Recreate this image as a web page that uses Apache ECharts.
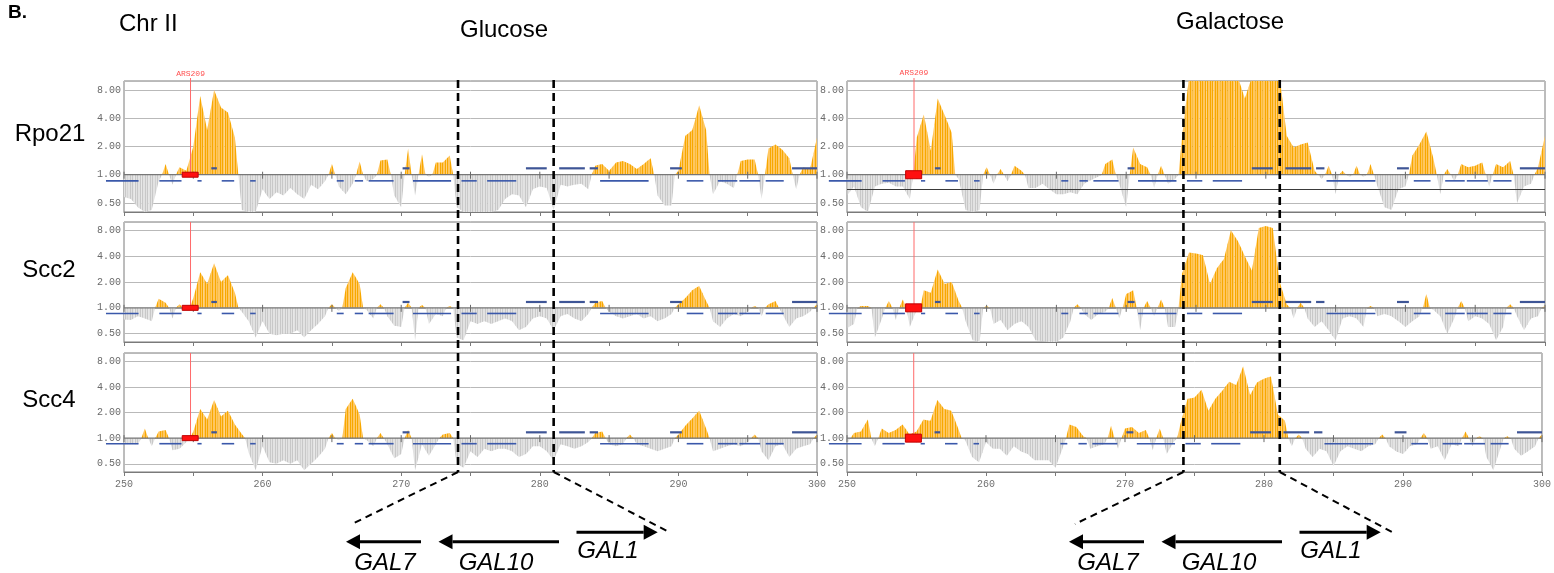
<!DOCTYPE html>
<html>
<head>
<meta charset="utf-8">
<title>Chr II GAL locus enrichment</title>
<script src="https://cdn.jsdelivr.net/npm/echarts@6.0.0/dist/echarts.min.js"></script>
<style>
  html, body { margin: 0; padding: 0; background: #fff; }
  #chart { width: 1554px; height: 573px; }
</style>
</head>
<body>
<div id="chart"></div>
<script>
// Bins along chromosome II (kb): first bin centre and bin width
const binStartKb = 250;
const binStepKb = 0.5;

// Enrichment ratios per 0.5 kb bin, 250.0 ... 300.0 kb (101 bins)
const rpo21Glucose = [
  0.58, 0.55, 0.45, 0.40, 0.42, 0.85, 1.3, 0.78, 1.2, 1.1,
  2.0, 6.9, 3.0, 8.0, 5.2, 4.6, 2.5, 0.42, 0.40, 0.40,
  0.7, 0.55, 0.65, 0.6, 0.72, 0.62, 0.55, 0.78, 0.7, 0.85,
  1.3, 0.75, 0.62, 0.8, 1.38, 0.85, 0.9, 1.42, 1.45, 0.6,
  0.45, 1.9, 0.6, 1.65, 0.95, 1.35, 1.35, 1.6, 0.45, 0.40,
  0.40, 0.40, 0.40, 0.40, 0.42, 0.55, 0.62, 0.6, 0.45, 0.7,
  0.75, 0.72, 0.42, 0.78, 0.75, 0.78, 0.8, 0.7, 1.25, 1.3,
  1.1, 1.35, 1.4, 1.3, 1.15, 1.3, 1.5, 0.6, 0.47, 0.47,
  1.1, 2.6, 3.0, 5.5, 3.0, 0.62, 0.85, 0.8, 0.72, 1.4,
  1.45, 1.45, 0.55, 1.9, 2.1, 1.85, 1.5, 0.7, 1.2, 1.15,
  2.5
];
const rpo21Galactose = [
  0.6, 0.75, 0.45, 0.40, 0.75, 0.8, 0.82, 0.75, 0.75, 0.55,
  2.5, 4.4, 1.8, 6.5, 4.3, 2.8, 0.9, 0.42, 0.40, 0.42,
  1.2, 0.8, 1.15, 0.85, 1.25, 1.1, 0.72, 0.72, 0.8, 0.7,
  0.62, 0.62, 0.65, 0.62, 0.8, 0.88, 0.95, 1.3, 1.45, 0.8,
  0.45, 1.95, 1.3, 1.2, 0.72, 1.25, 0.8, 0.9, 2.5, 11,
  11, 11, 11, 11, 11, 11, 11, 6.5, 11, 11,
  11, 11, 11, 2.6, 1.95, 2.1, 2.2, 1.1, 0.9, 1.25,
  0.62, 1.1, 0.95, 1.25, 0.95, 1.3, 0.75, 0.45, 0.42, 0.7,
  0.75, 1.6, 2.1, 2.9, 1.5, 0.62, 1.15, 0.85, 1.3, 1.2,
  1.25, 1.35, 0.75, 1.3, 1.2, 1.4, 0.5, 0.75, 0.8, 1.2,
  2.6
];
const scc2Glucose = [
  0.73, 0.72, 0.8, 0.75, 0.7, 1.28, 1.15, 0.75, 1.1, 0.95,
  1.3, 2.6, 1.9, 3.3, 2.0, 2.4, 1.5, 0.9, 0.7, 0.45,
  0.7, 0.5, 0.48, 0.5, 0.5, 0.55, 0.45, 0.55, 0.65, 0.8,
  1.1, 0.92, 1.7, 2.6, 1.9, 0.95, 0.75, 1.1, 0.8, 0.62,
  0.6, 1.15, 0.42, 1.08, 0.65, 0.85, 0.8, 1.05, 0.45, 0.42,
  0.7, 0.65, 0.7, 0.65, 0.7, 0.75, 0.7, 0.55, 0.6, 0.75,
  0.8, 0.75, 0.55, 0.8, 0.85, 0.75, 0.7, 0.85, 1.15, 1.2,
  0.9, 0.8, 0.75, 0.8, 0.85, 0.75, 0.8, 0.7, 0.75, 0.85,
  1.1, 1.3, 1.6, 1.8, 1.2, 0.7, 0.6, 0.75, 0.85, 0.8,
  0.9, 1.05, 0.8, 1.1, 1.2, 0.85, 0.6, 0.75, 0.8, 0.9,
  1.1
];
const scc2Galactose = [
  0.58, 0.65, 1.05, 1.05, 0.45, 0.75, 1.2, 0.72, 1.25, 0.6,
  0.95, 1.6, 1.5, 2.8, 1.9, 2.0, 1.2, 0.7, 0.42, 0.4,
  1.05, 0.65, 0.72, 0.55, 0.65, 0.7, 0.6, 0.42, 0.41, 0.4,
  0.4, 0.45, 0.7, 1.1, 0.85, 0.72, 0.85, 0.9, 1.3, 0.75,
  1.45, 1.6, 0.55, 1.2, 0.8, 1.25, 0.6, 0.6, 2.5, 4.4,
  4.3, 4.1, 1.9, 2.9, 3.7, 8.0, 6.0, 4.0, 2.7, 8.5,
  9.0, 8.5, 2.0, 1.1, 0.75, 1.15, 0.75, 0.6, 0.7, 0.55,
  0.42, 0.75, 0.8, 0.75, 0.6, 1.05, 0.8, 0.85, 0.8, 0.7,
  0.6, 0.7, 0.8, 1.45, 0.95, 0.8, 0.5, 0.75, 1.2, 0.7,
  0.8, 0.75, 0.65, 0.42, 0.6, 1.1, 0.8, 0.55, 0.75, 0.8,
  1.05
];
const scc4Glucose = [
  0.85, 0.85, 0.85, 1.3, 0.8, 1.2, 1.25, 0.72, 0.75, 0.9,
  1.2, 2.2, 1.65, 2.8, 1.8, 2.1, 1.45, 1.12, 0.67, 0.42,
  0.8, 0.52, 0.5, 0.55, 0.5, 0.55, 0.42, 0.5, 0.6, 0.75,
  1.15, 0.95, 2.2, 2.9, 1.9, 0.95, 0.8, 1.15, 0.85, 0.58,
  0.65, 1.25, 0.42, 0.85, 0.62, 0.85, 1.1, 1.15, 0.5, 0.45,
  0.7, 0.6, 0.75, 0.7, 0.75, 0.75, 0.7, 0.6, 0.65, 0.8,
  0.8, 0.7, 0.55, 0.85, 0.8, 0.75, 0.8, 0.9, 1.15, 1.2,
  0.85, 0.8, 0.85, 1.1, 0.85, 0.8, 0.75, 0.7, 0.75, 0.8,
  1.1, 1.4, 1.7, 2.1, 1.3, 0.7, 0.75, 0.8, 0.85, 0.8,
  0.9, 1.1, 0.7, 0.55, 0.8, 0.85, 0.6, 0.75, 0.8, 0.85,
  1.1
];
const scc4Galactose = [
  0.85, 1.15, 1.2, 1.65, 0.8, 1.3, 1.15, 1.25, 1.45, 1.1,
  1.2, 1.65, 1.6, 2.8, 2.2, 2.1, 1.3, 0.95, 0.6, 0.52,
  0.9, 0.75, 0.75, 0.62, 0.8, 0.7, 0.65, 0.55, 0.55, 0.55,
  0.45, 0.75, 1.45, 1.35, 1.05, 0.75, 0.8, 0.85, 1.4, 0.75,
  1.3, 1.35, 1.15, 1.25, 0.72, 1.3, 0.65, 0.9, 1.5, 2.9,
  3.0, 3.7, 2.1, 2.9, 3.6, 4.6, 4.2, 7.0, 3.2, 4.5,
  5.0, 5.3, 1.9, 1.6, 0.8, 1.1, 0.75, 0.6, 0.75, 0.7,
  0.47, 0.7, 0.8, 0.75, 0.7, 0.8, 0.85, 1.1, 0.8, 0.7,
  0.65, 0.8, 0.85, 1.15, 0.75, 0.8, 0.55, 0.85, 0.8, 1.2,
  0.8, 1.05, 0.6, 0.42, 0.75, 1.05, 0.75, 0.62, 0.7, 0.8,
  1.1
];

// Called segments (start kb, end kb), drawn above / below the 1.00 line
const upperSegments = [
  [256.3, 256.7], [270.1, 270.6], [279.0, 280.5], [281.4, 283.25],
  [283.6, 284.2], [289.4, 290.25], [298.2, 300.0]
];
const lowerSegments = [
  [248.7, 251.05], [252.55, 254.15], [255.3, 255.6], [257.05, 257.95],
  [259.1, 259.5], [265.35, 265.85], [266.65, 267.25], [267.65, 269.45],
  [270.85, 273.6], [274.35, 275.45], [276.2, 278.3], [284.35, 287.85],
  [290.6, 291.8], [292.85, 294.25], [294.4, 295.9], [296.3, 297.6]
];
const upperSegmentLevel = 1.17;
const lowerSegmentLevel = 0.86;

// Replication origin ARS209 and the GAL cluster boundaries (kb)
const arsName = 'ARS209';
const arsPositionKb = 254.8;
const arsSpanKb = [254.2, 255.35];
const galClusterKb = [274.1, 281.0];

// Axis ticks
const xTicksKb = [250, 255, 260, 265, 270, 275, 280, 285, 290, 295, 300];
const extraLineRpo21Galactose = 0.7;

const rowNames = ['Rpo21', 'Scc2', 'Scc4'];
const conditions = ['Glucose', 'Galactose'];
const panelData = [
  [rpo21Glucose, rpo21Galactose],
  [scc2Glucose, scc2Galactose],
  [scc4Glucose, scc4Galactose]
];

// Layout (pixels)
const cols = [{ left: 124, width: 693 }, { left: 847, width: 698 }];
const rows = [{ top: 81, height: 131 }, { top: 222, height: 120 }, { top: 353, height: 119 }];
const monoFont = '"Liberation Mono", "DejaVu Sans Mono", monospace';
const textFont = '"Liberation Sans", Arial, sans-serif';

function stripeFill(light, dark) {
  const c = document.createElement('canvas');
  c.width = 5; c.height = 4;
  const g = c.getContext('2d');
  g.fillStyle = light; g.fillRect(0, 0, 5, 4);
  g.fillStyle = dark; g.fillRect(0, 0, 1, 4); g.fillRect(2, 0, 1, 4);
  return { image: c, repeat: 'repeat' };
}
const enrichedFill = stripeFill('#ffc660', '#f7a800');
const depletedFill = stripeFill('#e2e2e2', '#c8c8c8');

const chart = echarts.init(document.getElementById('chart'), null, { renderer: 'canvas' });

const grids = [], xAxes = [], yAxes = [], series = [];

// Edge height between two neighbouring bins: shared level when both sit
// on the same side of 1, otherwise the profile returns to the baseline.
function edgeValue(a, b) {
  if (a === undefined) return b;
  if ((a >= 1) !== (b >= 1)) return 1;
  return Math.sqrt(a * b);
}

rows.forEach((row, r) => {
  cols.forEach((col, c) => {
    const i = r * 2 + c;
    const values = panelData[r][c];
    grids.push({
      left: col.left, top: row.top, width: col.width, height: row.height,
      show: true, borderColor: '#7a7a7a', borderWidth: 1, backgroundColor: '#fff'
    });
    xAxes.push({
      gridIndex: i, type: 'value', min: 250, max: 300, interval: 5,
      axisLine: { show: true, lineStyle: { color: '#7a7a7a' } },
      axisTick: { show: true, length: 4, lineStyle: { color: '#7a7a7a' } },
      axisLabel: {
        show: r === 2, color: '#707070', fontFamily: monoFont, fontSize: 10, margin: 7,
        formatter: v => (v % 10 === 0 ? String(v) : '')
      },
      splitLine: { show: false }
    });
    yAxes.push({
      gridIndex: i, type: 'log', logBase: 2, min: 0.4, max: 10,
      axisLine: { show: false }, axisTick: { show: false },
      axisLabel: {
        color: '#6a6a6a', fontFamily: monoFont, fontSize: 10, margin: 3,
        showMinLabel: false, showMaxLabel: false,
        formatter: v => Number(v).toFixed(2)
      },
      splitLine: { show: true, lineStyle: { color: '#b9b9b9', width: 1 } }
    });

    // enrichment profile, one column per bin, drawn from the 1.00 baseline
    const barSeries = {
      type: 'custom', name: rowNames[r] + ' ' + conditions[c],
      xAxisIndex: i, yAxisIndex: i, clip: true, silent: true, z: 2,
      data: values.map((v, k) => [binStartKb + k * binStepKb, v]),
      renderItem: (params, api) => {
        const k = params.dataIndex;
        const kb = api.value(0), v = api.value(1);
        const eL = edgeValue(values[k - 1], v);
        const eR = edgeValue(values[k + 1], v);
        const pL = api.coord([kb - binStepKb / 2, eL]);
        const pC = api.coord([kb, v]);
        const pR = api.coord([kb + binStepKb / 2, eR]);
        const baseY = api.coord([kb, 1])[1];
        return {
          type: 'polygon',
          shape: { points: [[pL[0], baseY], [pL[0], pL[1]], [pC[0], pC[1]], [pR[0], pR[1]], [pR[0], baseY]] },
          style: { fill: v >= 1 ? enrichedFill : depletedFill }
        };
      }
    };
    if (r === 0 && c === 1) {
      barSeries.markLine = {
        silent: true, symbol: ['none', 'none'], label: { show: false },
        lineStyle: { color: '#3a3a3a', type: 'solid', width: 1 },
        data: [{ yAxis: extraLineRpo21Galactose }]
      };
    }
    series.push(barSeries);

    // 1.00 baseline with its tick marks
    series.push({
      type: 'custom', xAxisIndex: i, yAxisIndex: i, silent: true, z: 3,
      data: xTicksKb.map(k => [k, 1]),
      renderItem: (params, api) => {
        const p = api.coord([api.value(0), 1]);
        const children = [{
          type: 'line', shape: { x1: p[0], y1: p[1] - 3, x2: p[0], y2: p[1] + 4 },
          style: { stroke: '#6a6a6a', lineWidth: 1 }
        }];
        if (params.dataIndex === 0) {
          const e = api.coord([xTicksKb[xTicksKb.length - 1], 1]);
          children.push({
            type: 'line', shape: { x1: p[0], y1: p[1], x2: e[0], y2: e[1] },
            style: { stroke: '#777', lineWidth: 1.2 }
          });
        }
        return { type: 'group', children };
      }
    });

    // called segments
    [[upperSegments, upperSegmentLevel, '#3e5596', 2.2], [lowerSegments, lowerSegmentLevel, '#3a58aa', 1.6]].forEach(([segs, level, color, w]) => {
      series.push({
        type: 'custom', xAxisIndex: i, yAxisIndex: i, silent: true, z: 4,
        encode: { x: [0, 1] },
        data: segs.map(s => [s[0], s[1]]),
        renderItem: (params, api) => {
          const a = api.coord([api.value(0), level]);
          const b = api.coord([api.value(1), level]);
          return { type: 'line', shape: { x1: a[0], y1: a[1], x2: b[0], y2: b[1] }, style: { stroke: color, lineWidth: w } };
        }
      });
    });

    // ARS209 marker: vertical line and feature box
    const boxHalf = c === 0 ? 2.5 : 4;
    series.push({
      type: 'custom', xAxisIndex: i, yAxisIndex: i, silent: true, z: 5,
      encode: { x: [0, 1, 2] },
      data: [[arsPositionKb, arsSpanKb[0], arsSpanKb[1]]],
      renderItem: (params, api) => {
        const top = api.coord([api.value(0), 10]);
        const base = api.coord([api.value(0), 1]);
        const a = api.coord([api.value(1), 1]);
        const b = api.coord([api.value(2), 1]);
        return {
          type: 'group', children: [
            { type: 'line', shape: { x1: base[0], y1: top[1], x2: base[0], y2: base[1] }, style: { stroke: '#ff6a6a', lineWidth: 1 } },
            { type: 'rect', shape: { x: a[0], y: a[1] - boxHalf, width: b[0] - a[0], height: boxHalf * 2 }, style: { fill: '#ff1010', stroke: '#c00000', lineWidth: 1 } }
          ]
        };
      }
    });
  });
});

chart.setOption({
  animation: false,
  backgroundColor: '#fff',
  grid: grids, xAxis: xAxes, yAxis: yAxes, series
});

// Annotations placed from the axis scales
const gfx = [];
const bottomY = rows[2].top + rows[2].height;
const schematic = {
  diagLeft: [228, 524], diagRight: [545, 532],
  arrows: [
    { name: 'GAL7', tail: 297, tip: 222, y: 541.7, label: [261, 563] },
    { name: 'GAL10', tail: 435, tip: 314.5, y: 541.7, label: [372, 563] },
    { name: 'GAL1', tail: 452.5, tip: 533.7, y: 532.3, label: [484, 551.7] }
  ]
};

cols.forEach((col, c) => {
  const xs = galClusterKb.map(kb => chart.convertToPixel({ xAxisIndex: c }, kb));
  xs.forEach(x => {
    gfx.push({ type: 'line', z: 50, silent: true,
      shape: { x1: x, y1: rows[0].top - 1, x2: x, y2: bottomY },
      style: { stroke: '#000', lineWidth: 2.6, lineDash: [8, 5] } });
  });
  gfx.push({ type: 'line', z: 50, silent: true,
    shape: { x1: xs[0], y1: bottomY, x2: col.left + schematic.diagLeft[0], y2: schematic.diagLeft[1] },
    style: { stroke: '#000', lineWidth: 2, lineDash: [7, 5] } });
  gfx.push({ type: 'line', z: 50, silent: true,
    shape: { x1: xs[1], y1: bottomY, x2: col.left + schematic.diagRight[0], y2: schematic.diagRight[1] },
    style: { stroke: '#000', lineWidth: 2, lineDash: [7, 5] } });

  schematic.arrows.forEach(g => {
    const tail = col.left + g.tail, tip = col.left + g.tip;
    const dir = tip > tail ? 1 : -1;
    const headBase = tip - dir * 14;
    gfx.push({ type: 'line', z: 50, silent: true,
      shape: { x1: tail, y1: g.y, x2: headBase, y2: g.y },
      style: { stroke: '#000', lineWidth: 3 } });
    gfx.push({ type: 'polygon', z: 50, silent: true,
      shape: { points: [[tip, g.y], [headBase, g.y - 7.5], [headBase, g.y + 7.5]] },
      style: { fill: '#000' } });
    gfx.push({ type: 'text', z: 50, silent: true,
      style: { text: g.name, x: col.left + g.label[0], y: g.label[1], font: 'italic 24px ' + textFont,
        fill: '#000', textAlign: 'center', textVerticalAlign: 'middle' } });
  });

  const arsX = chart.convertToPixel({ xAxisIndex: c }, arsPositionKb);
  gfx.push({ type: 'line', z: 50, silent: true,
    shape: { x1: arsX, y1: rows[0].top - 3, x2: arsX, y2: rows[0].top },
    style: { stroke: '#ff6a6a', lineWidth: 1 } });
  gfx.push({ type: 'text', z: 50, silent: true,
    style: { text: arsName, x: arsX, y: rows[0].top - 7 + (c === 1 ? -1 : 0), font: '8px ' + monoFont,
      fill: '#ff5050', textAlign: 'center', textVerticalAlign: 'middle' } });
});

const titles = [
  { text: 'B.', x: 8, y: 13, font: 'bold 19px ' + textFont, align: 'left' },
  { text: 'Chr II', x: 119, y: 24, font: '24px ' + textFont, align: 'left' },
  { text: conditions[0], x: 504, y: 30, font: '24px ' + textFont, align: 'center' },
  { text: conditions[1], x: 1230, y: 22, font: '24px ' + textFont, align: 'center' },
  { text: rowNames[0], x: 50, y: 134, font: '24px ' + textFont, align: 'center' },
  { text: rowNames[1], x: 49, y: 270, font: '24px ' + textFont, align: 'center' },
  { text: rowNames[2], x: 49, y: 400, font: '24px ' + textFont, align: 'center' }
];
titles.forEach(t => gfx.push({ type: 'text', z: 50, silent: true,
  style: { text: t.text, x: t.x, y: t.y, font: t.font, fill: '#000', textAlign: t.align, textVerticalAlign: 'middle' } }));

chart.setOption({ graphic: { elements: gfx } });
</script>
</body>
</html>
